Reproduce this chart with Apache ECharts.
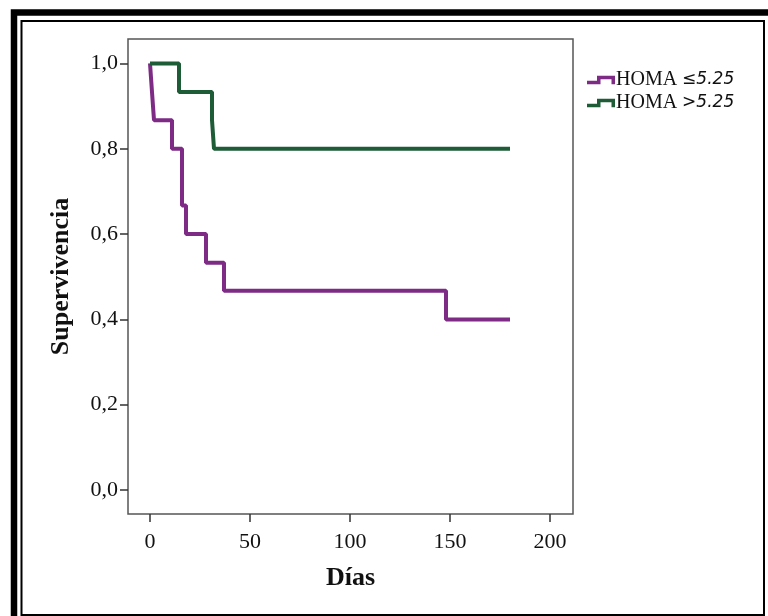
<!DOCTYPE html>
<html>
<head>
<meta charset="utf-8">
<script src="https://cdn.jsdelivr.net/npm/echarts@6/dist/echarts.min.js"></script>
<style>
html,body{margin:0;padding:0;background:#fff;}
#c{width:768px;height:616px;}
</style>
</head>
<body>
<div id="c"></div>
<script>
// Data (Kaplan-Meier steps)
var seriesNames = ['HOMA ≤5.25', 'HOMA >5.25'];
var daysLow = [0, 1, 2, 11, 16, 18, 28, 37, 148, 180];
var survLow = [1.0, 0.933, 0.867, 0.8, 0.667, 0.6, 0.533, 0.467, 0.4, 0.4];
var daysHigh = [0, 14.5, 31, 32, 180];
var survHigh = [1.0, 0.933, 0.867, 0.8, 0.8];
var xTicks = [0, 50, 100, 150, 200];
var yTicks = [0, 0.2, 0.4, 0.6, 0.8, 1.0];

function pairs(xs, ys) { return xs.map(function (x, i) { return [x, ys[i]]; }); }

var serif = '"Liberation Serif", "DejaVu Serif", serif';
var stepIcon = 'path://M0,5 L10,5 L10,0 L28,0 L28,8.5 L24.5,8.5 L24.5,3.5 L13.5,3.5 L13.5,8.5 L0,8.5 Z';

var chart = echarts.init(document.getElementById('c'));
chart.setOption({
  animation: false,
  backgroundColor: '#fff',
  graphic: [
    { type: 'rect', shape: { x: 14, y: 12.5, width: 800, height: 700 }, style: { fill: 'none', stroke: '#000', lineWidth: 6.5 }, silent: true },
    { type: 'rect', shape: { x: 21.5, y: 21, width: 742.5, height: 594 }, style: { fill: 'none', stroke: '#000', lineWidth: 2 }, silent: true }
  ],
  grid: { left: 128, top: 39, right: 195, bottom: 102, show: true, borderColor: '#555', borderWidth: 1.5, backgroundColor: 'transparent' },
  legend: {
    orient: 'vertical', left: 582, top: 65, itemWidth: 28, itemHeight: 9, itemGap: 3,
    data: [
      { name: seriesNames[0], icon: stepIcon },
      { name: seriesNames[1], icon: stepIcon }
    ],
    formatter: function (n) {
      var parts = n.split(' ');
      return '{a|' + parts[0] + ' }{b|' + parts[1] + '}';
    },
    textStyle: {
      padding: [0, 0, 0, -4],
      rich: {
        a: { fontFamily: serif, fontSize: 20, color: '#111', lineHeight: 22 },
        b: { fontFamily: '"DejaVu Sans", sans-serif', fontStyle: 'italic', fontSize: 17, color: '#111', lineHeight: 22 }
      }
    }
  },
  xAxis: {
    type: 'value', min: -11, max: 211.5,
    name: 'Días', nameLocation: 'middle', nameGap: 51,
    nameTextStyle: { fontFamily: serif, fontWeight: 'bold', fontSize: 26, color: '#111' },
    axisLine: { show: false, onZero: false },
    axisTick: { show: true, length: 8, customValues: xTicks, lineStyle: { color: '#333', width: 1.5 } },
    axisLabel: { customValues: xTicks, margin: 17, fontFamily: serif, fontSize: 22, color: '#111' },
    splitLine: { show: false }
  },
  yAxis: {
    type: 'value', min: -0.0563, max: 1.0574,
    name: 'Supervivencia', nameLocation: 'middle', nameGap: 54,
    nameTextStyle: { fontFamily: serif, fontWeight: 'bold', fontSize: 26, color: '#111' },
    axisLine: { show: false, onZero: false },
    axisTick: { show: true, length: 8, customValues: yTicks, lineStyle: { color: '#333', width: 1.5 } },
    axisLabel: {
      customValues: yTicks, margin: 10, fontFamily: serif, fontSize: 22, color: '#111',
      formatter: function (v) { return v.toFixed(1).replace('.', ','); }
    },
    splitLine: { show: false }
  },
  series: [
    { name: seriesNames[0], type: 'line', step: 'end', showSymbol: false, symbol: 'none',
      data: pairs(daysLow, survLow), itemStyle: { color: '#7E2B86' }, lineStyle: { color: '#7E2B86', width: 4 } },
    { name: seriesNames[1], type: 'line', step: 'end', showSymbol: false, symbol: 'none',
      data: pairs(daysHigh, survHigh), itemStyle: { color: '#1E5B37' }, lineStyle: { color: '#1E5B37', width: 4 } }
  ]
});
</script>
</body>
</html>
